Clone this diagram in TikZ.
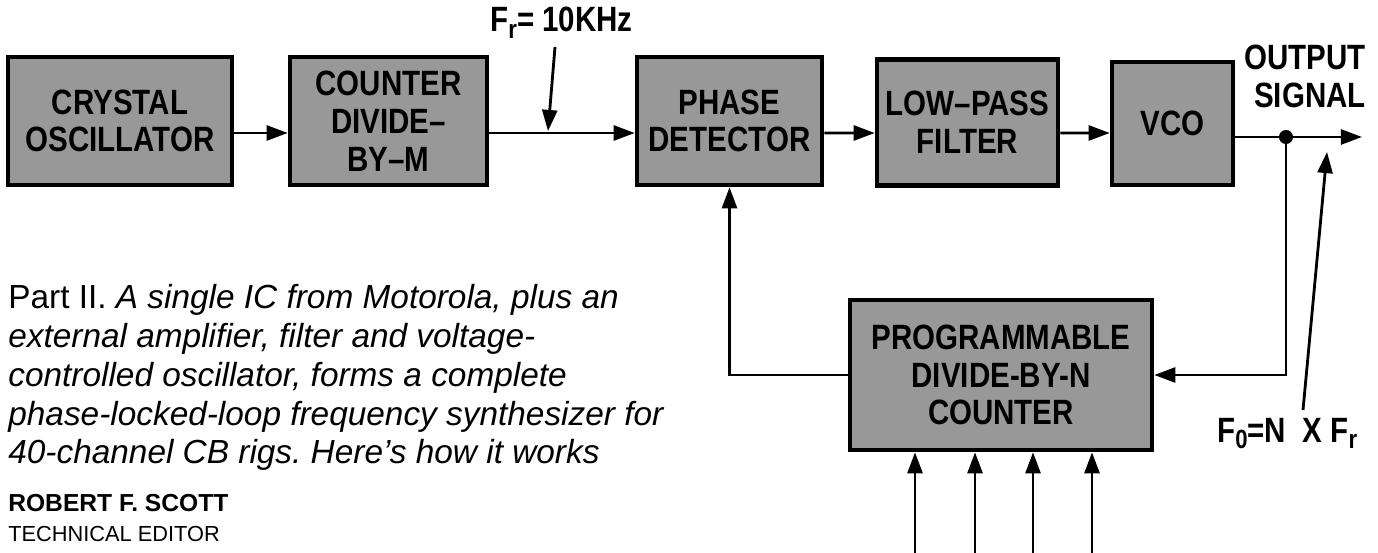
\documentclass[tikz,border=0pt]{standalone}
\usepackage{fontspec}
\setmainfont{Liberation Sans}
\newfontfamily\blockfont[FakeStretch=0.84]{Liberation Sans}
\usetikzlibrary{arrows.meta,calc}
\frenchspacing

\begin{document}
\begin{tikzpicture}[
  x=0.02cm, y=-0.02cm,
  >={Triangle[length=12pt,width=8.5pt]},
  block/.style={draw=black, line width=2.6pt, fill=boxgray, align=center,
    font=\blockfont\bfseries\fontsize{20}{21.5}\selectfont, inner sep=0pt},
  sig/.style={line width=1.6pt},
  tag/.style={font=\blockfont\bfseries\fontsize{20}{21.5}\selectfont, inner sep=0pt},
  blurb/.style={font=\fontsize{19}{22.1}\selectfont\itshape, align=left,
    anchor=north west, inner sep=0pt},
  byline/.style={font=\fontsize{12.4}{17}\selectfont, align=left,
    anchor=north west, inner sep=0pt}
]

\definecolor{boxgray}{RGB}{152,152,152}

\useasboundingbox (0,0) rectangle (1378,553);

% Reference chain
\node[block, minimum width=4.48cm, minimum height=2.56cm] (xtal) at (120,121)
  {CRYSTAL\\OSCILLATOR};
\node[block, minimum width=3.94cm, minimum height=2.56cm] (divm) at (388.5,121)
  {COUNTER\\DIVIDE–\\BY–M};

% Loop blocks
\node[block, minimum width=3.70cm, minimum height=2.56cm] (phase) at (729.5,121)
  {PHASE\\DETECTOR};
\node[block, minimum width=3.62cm, minimum height=2.52cm] (lpf) at (967.5,122.5)
  {LOW–PASS\\FILTER};
\node[block, minimum width=2.42cm, minimum height=2.46cm] (vco) at (1172.5,123.5)
  {VCO};
\node[block, minimum width=6.04cm, minimum height=3.0cm] (pdn) at (1001,375)
  {PROGRAMMABLE\\DIVIDE-BY-N\\COUNTER};

% Forward path
\draw[sig,->] ([yshift=-.24cm]xtal.east) -- ([yshift=-.24cm]divm.west);
\draw[sig,->] ([yshift=-.24cm]divm.east) -- ([yshift=-.24cm]phase.west);
\draw[sig,->] ([yshift=-.24cm]phase.east) -- ([yshift=-.21cm]lpf.west);
\draw[sig,->] ([yshift=-.21cm]lpf.east) -- ([yshift=-.19cm]vco.west);

\coordinate (tap) at (1286,137);
\coordinate (out) at (1362,137);
\draw[sig,->] (vco.east |- tap) -- (out);
\fill (tap) circle (4pt);

% Feedback
\draw[sig,->] (tap) |- (pdn.east);
\draw[sig,->] (pdn.west) -| (phase.south);

\foreach \x [count=\i] in {915,975,1033,1092}{
  \coordinate (in\i) at (\x,553);
  \draw[sig,->] (in\i) -- (in\i |- pdn.south);
}

% Labels
\node[tag, anchor=base west] (fr) at (490,32)
  {F\raisebox{-.35ex}{\fontsize{15}{15}\selectfont r}= 10KHz};
\coordinate (frtail) at (555,47);
\coordinate (frhead) at (548,131);
\draw[sig,->] (frtail) -- (frhead);

\node[tag, align=right, anchor=north east] (outlbl) at (1366,45) {OUTPUT\\SIGNAL};

\node[tag, anchor=base west] (fo) at (1217,442)
  {F\raisebox{-.35ex}{\fontsize{15}{15}\selectfont 0}=N\ \ X F\raisebox{-.35ex}{\fontsize{15}{15}\selectfont r}};
\coordinate (fotail) at (1303,410);
\coordinate (fohead) at (1327,152);
\draw[sig,->] (fotail) -- (fohead);

% Caption
\node[blurb] (cap) at (8,284)
  {\textup{Part II.} A single IC from Motorola, plus an\\
   external amplifier, filter and voltage-\\
   controlled oscillator, forms a complete\\
   phase-locked-loop frequency synthesizer for\\
   40-channel CB rigs. Here’s how it works};
\node[byline] (author) at (8,494)
  {\textbf{\fontsize{14}{17}\selectfont ROBERT F. SCOTT}\\TECHNICAL EDITOR};

\end{tikzpicture}
\end{document}
